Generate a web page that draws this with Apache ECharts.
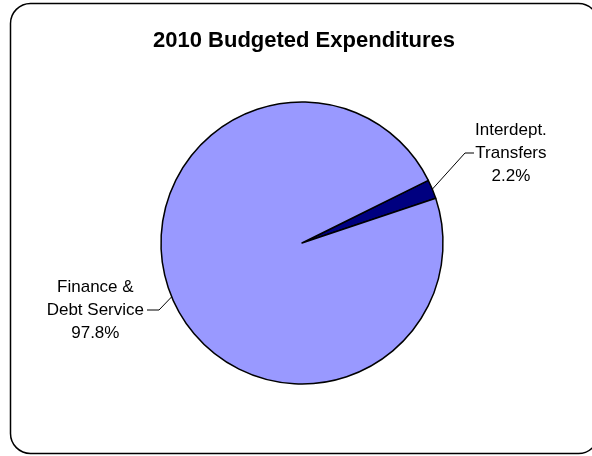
<!DOCTYPE html>
<html>
<head>
<meta charset="utf-8">
<script src="https://cdn.jsdelivr.net/npm/echarts@6/dist/echarts.min.js"></script>
<style>
html,body{margin:0;padding:0;background:#fff;}
#c{width:592px;height:456px;}
</style>
</head>
<body>
<div id="c"></div>
<script>
var titleText = '2010 Budgeted Expenditures';
var categories = ['Interdept.\nTransfers', 'Finance &\nDebt Service'];
var values = [2.2, 97.8];
var colors = ['#000080', '#9999FF'];

var chart = echarts.init(document.getElementById('c'), null, {renderer: 'canvas'});
var data = categories.map(function (c, i) {
  return {name: c, value: values[i], itemStyle: {color: colors[i]}};
});
chart.setOption({
  backgroundColor: '#ffffff',
  animation: false,
  graphic: [{
    type: 'rect',
    shape: {x: 10.5, y: 3.5, width: 588, height: 450, r: 20},
    style: {fill: 'none', stroke: '#000', lineWidth: 1.5},
    z: -1
  }],
  title: {
    text: titleText,
    left: 148,
    top: 25,
    textStyle: {fontFamily: 'Arial, "Liberation Sans", sans-serif', fontSize: 22, fontWeight: 'bold', color: '#000'}
  },
  series: [{
    type: 'pie',
    center: [302, 243],
    radius: 141,
    startAngle: 26.4,
    clockwise: true,
    data: data,
    itemStyle: {borderColor: '#000', borderWidth: 1.5},
    label: {
      show: true,
      position: 'outside',
      formatter: function (p) {
        var lines = p.name.split('\n');
        lines.push(p.value + '%');
        return lines.map(function (l) { return '{c|' + l + '}'; }).join('\n');
      },
      rich: {
        c: {align: 'center', fontSize: 17, lineHeight: 23, color: '#000', fontFamily: 'Arial, "Liberation Sans", sans-serif'}
      }
    },
    labelLine: {show: true, lineStyle: {color: '#000', width: 1}},
    labelLayout: function (p) {
      var pts = p.labelLinePoints || [[0,0]];
      if (p.dataIndex === 0) {
        return {x: 475, y: 153, align: 'left', verticalAlign: 'middle',
          labelLinePoints: [pts[0], [465, 153], [474, 153]]};
      }
      return {x: 144, y: 310, align: 'right', verticalAlign: 'middle',
        labelLinePoints: [pts[0], [159, 310], [147, 310]]};
    },
    emphasis: {disabled: true}
  }]
});
</script>
</body>
</html>
